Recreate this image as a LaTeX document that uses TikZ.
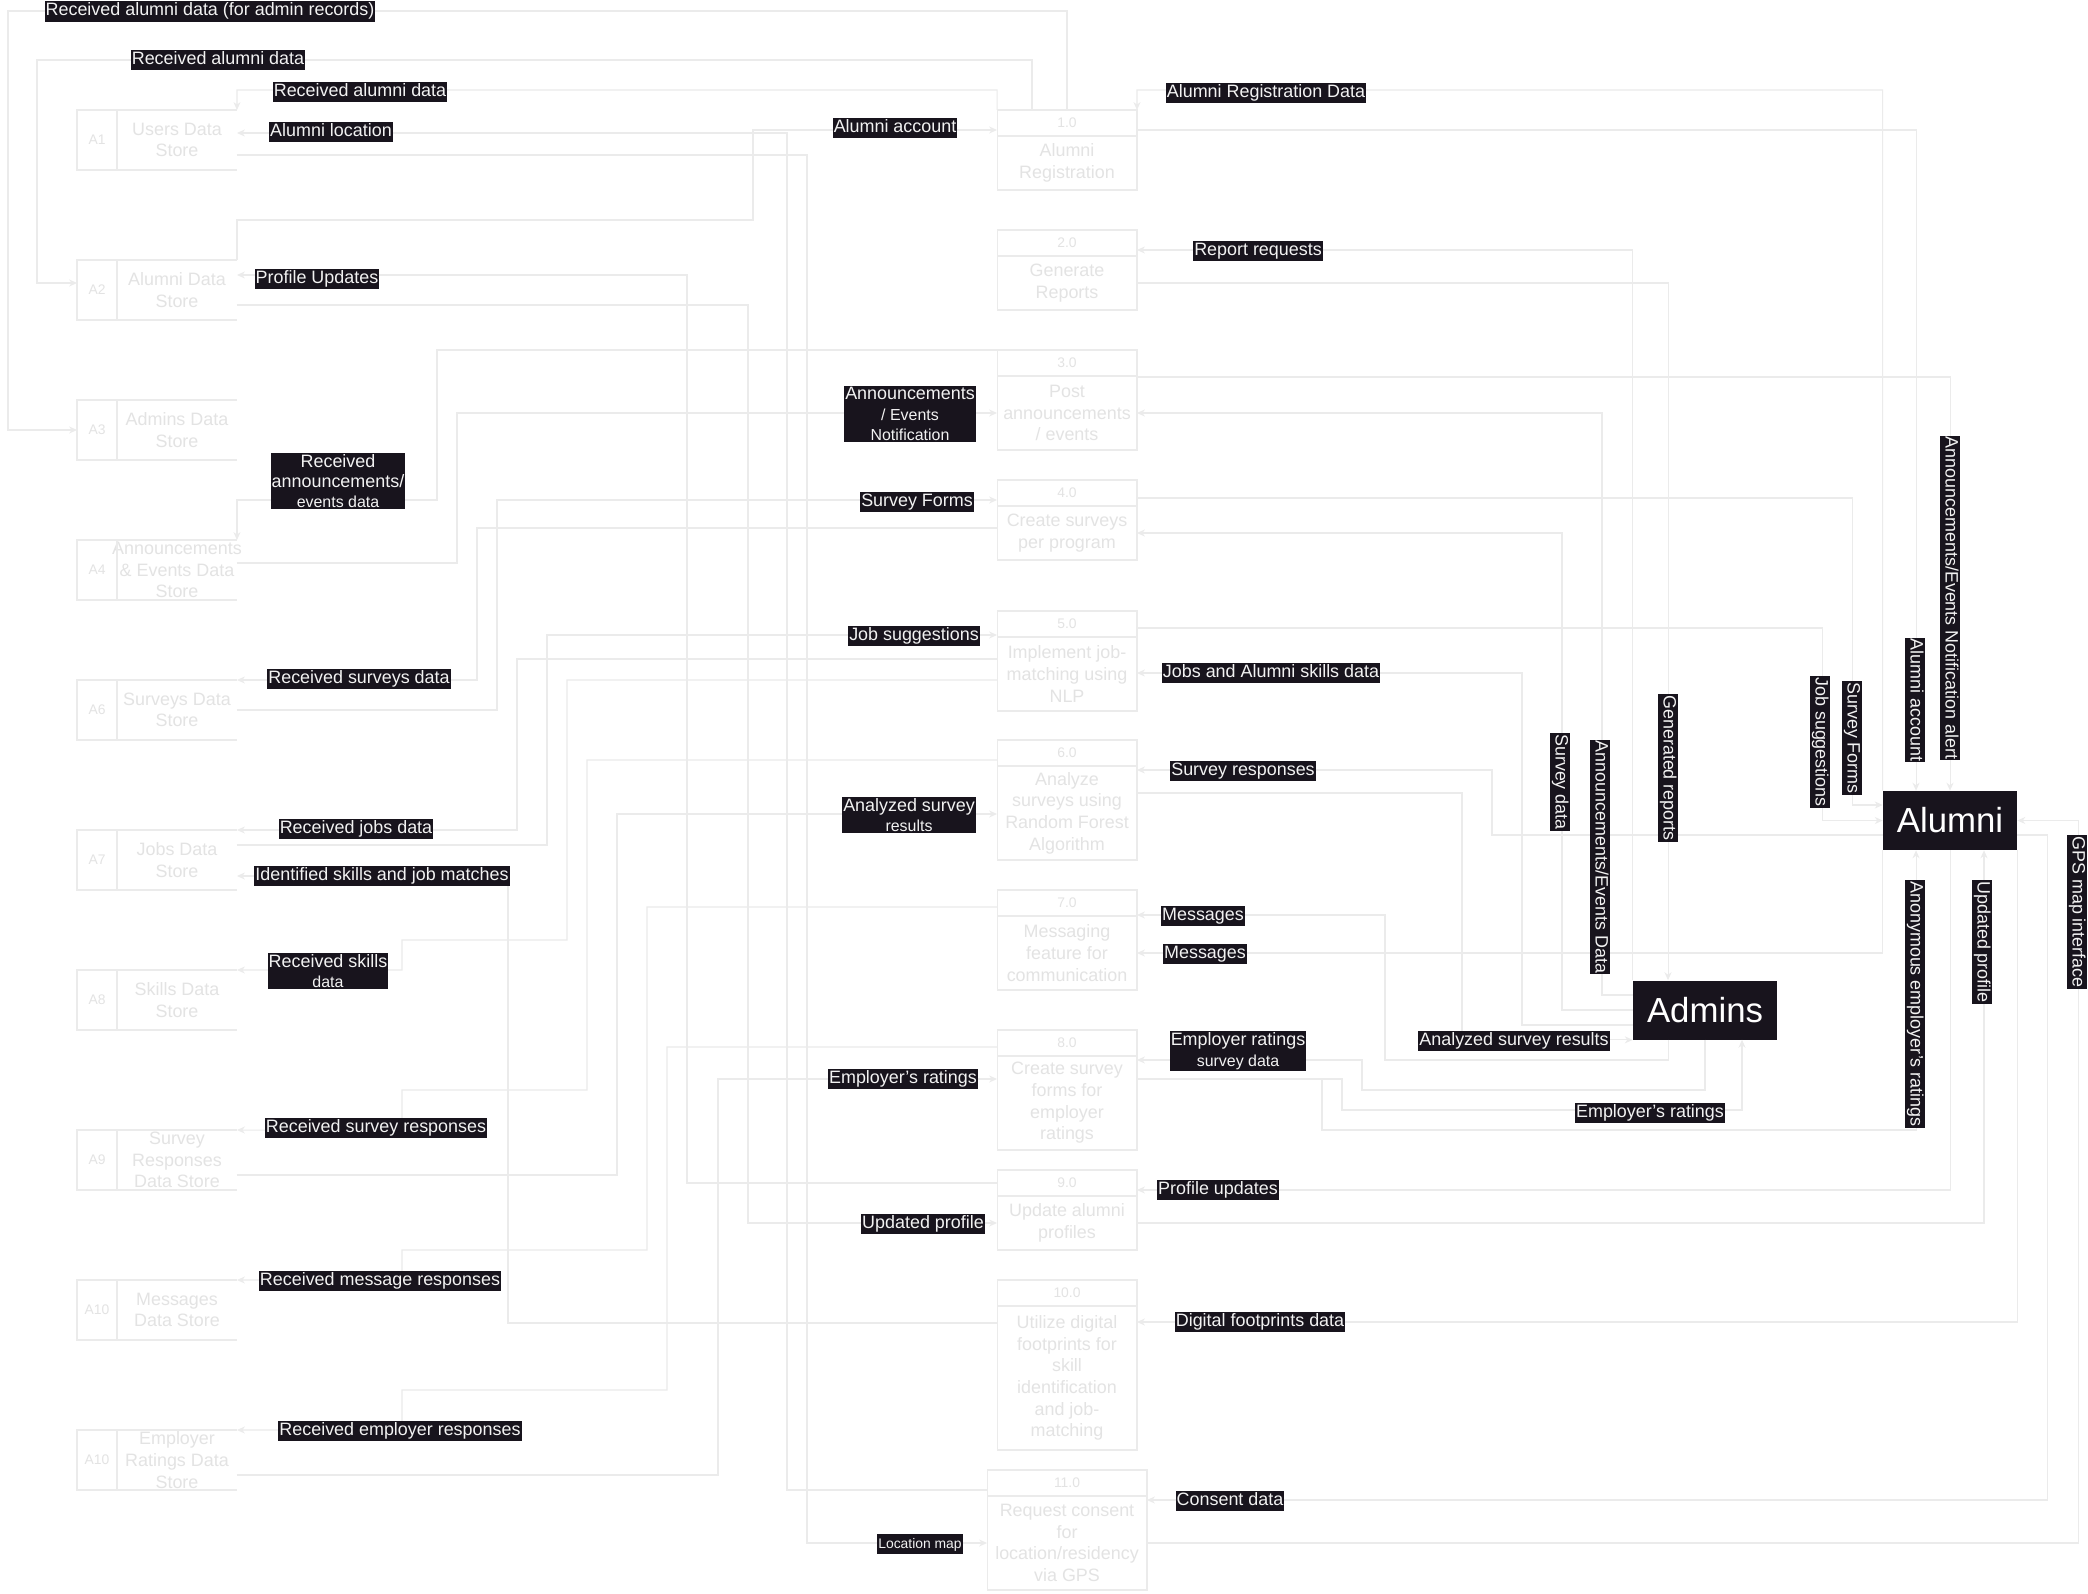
\documentclass[tikz,border=0pt]{standalone}
\usepackage{fontspec}
\setmainfont{Liberation Sans}
\usetikzlibrary{arrows.meta,positioning}

\definecolor{faint}{HTML}{EBEBEB}
\definecolor{fainttext}{HTML}{E3E3E3}
\definecolor{ink}{HTML}{18141D}
\definecolor{paper}{HTML}{F2F2F2}
\newcommand{\lblfnt}{\fontsize{10.2}{11.6}\selectfont}
\newcommand{\smallfnt}{\fontsize{9.07}{10.4}\selectfont}
\newcommand{\tinyfnt}{\fontsize{7.9}{9}\selectfont}

\begin{document}
\begin{tikzpicture}[x=0.02cm,y=-0.02cm,
  flow/.style={draw=faint,line width=0.6pt,-{Stealth[length=4.5pt,width=4pt]}},
  storeline/.style={draw=faint,line width=0.6pt},
  store/.style={minimum width=2.4cm,minimum height=1.2cm,inner sep=0pt,outer sep=0pt,align=center,text=fainttext,font=\fontsize{10.2}{12.3}\selectfont},
  storeid/.style={minimum width=0.8cm,minimum height=1.2cm,inner sep=0pt,outer sep=0pt,text=fainttext,font=\tinyfnt},
  phead/.style={draw=faint,line width=0.6pt,minimum width=2.8cm,minimum height=0.52cm,inner sep=0pt,outer sep=0pt,text=fainttext,font=\tinyfnt},
  pbody/.style={draw=faint,line width=0.6pt,minimum width=2.8cm,inner sep=0pt,outer sep=0pt,align=center,text=fainttext,font=\fontsize{10.2}{12.3}\selectfont},
  flowlbl/.style={fill=ink,text=paper,inner xsep=0.6pt,inner ysep=0.8pt,align=center,text height=0.75em,text depth=0.25em,font=\lblfnt},
  vlbl/.style={flowlbl,rotate=-90},
  entity/.style={fill=ink,text=white,minimum height=1.18cm,inner sep=0pt,font=\fontsize{19.8}{22}\selectfont}]

\fill[white] (0,0) rectangle (2088,1594);
\useasboundingbox (0,0) rectangle (2088,1594);

% data stores
\node[store] (A1) at (177,140) {Users Data\\Store};
\node[storeid,left=0pt of A1] (A1id) {A1};
\node[store] (A2) at (177,290) {Alumni Data\\Store};
\node[storeid,left=0pt of A2] (A2id) {A2};
\node[store] (A3) at (177,430) {Admins Data\\Store};
\node[storeid,left=0pt of A3] (A3id) {A3};
\node[store] (A4) at (177,570) {\makebox[2.4cm]{Announcements}\\\& Events Data\\Store};
\node[storeid,left=0pt of A4] (A4id) {A4};
\node[store] (A6) at (177,710) {Surveys Data\\Store};
\node[storeid,left=0pt of A6] (A6id) {A6};
\node[store] (A7) at (177,860) {Jobs Data\\Store};
\node[storeid,left=0pt of A7] (A7id) {A7};
\node[store] (A8) at (177,1000) {Skills Data\\Store};
\node[storeid,left=0pt of A8] (A8id) {A8};
\node[store] (A9) at (177,1160) {Survey\\Responses\\Data Store};
\node[storeid,left=0pt of A9] (A9id) {A9};
\node[store] (A10) at (177,1310) {Messages\\Data Store};
\node[storeid,left=0pt of A10] (A10id) {A10};
\node[store] (A10b) at (177,1460) {Employer\\Ratings Data\\Store};
\node[storeid,left=0pt of A10b] (A10bid) {A10};

\draw[storeline] (A1id.north -| A1.east) -- (A1id.north west) -- (A1id.south west) -- (A1id.south -| A1.east) (A1id.north east) -- (A1id.south east);
\draw[storeline] (A2id.north -| A2.east) -- (A2id.north west) -- (A2id.south west) -- (A2id.south -| A2.east) (A2id.north east) -- (A2id.south east);
\draw[storeline] (A3id.north -| A3.east) -- (A3id.north west) -- (A3id.south west) -- (A3id.south -| A3.east) (A3id.north east) -- (A3id.south east);
\draw[storeline] (A4id.north -| A4.east) -- (A4id.north west) -- (A4id.south west) -- (A4id.south -| A4.east) (A4id.north east) -- (A4id.south east);
\draw[storeline] (A6id.north -| A6.east) -- (A6id.north west) -- (A6id.south west) -- (A6id.south -| A6.east) (A6id.north east) -- (A6id.south east);
\draw[storeline] (A7id.north -| A7.east) -- (A7id.north west) -- (A7id.south west) -- (A7id.south -| A7.east) (A7id.north east) -- (A7id.south east);
\draw[storeline] (A8id.north -| A8.east) -- (A8id.north west) -- (A8id.south west) -- (A8id.south -| A8.east) (A8id.north east) -- (A8id.south east);
\draw[storeline] (A9id.north -| A9.east) -- (A9id.north west) -- (A9id.south west) -- (A9id.south -| A9.east) (A9id.north east) -- (A9id.south east);
\draw[storeline] (A10id.north -| A10.east) -- (A10id.north west) -- (A10id.south west) -- (A10id.south -| A10.east) (A10id.north east) -- (A10id.south east);
\draw[storeline] (A10bid.north -| A10b.east) -- (A10bid.north west) -- (A10bid.south west) -- (A10bid.south -| A10b.east) (A10bid.north east) -- (A10bid.south east);

% processes
\node[phead] (P1h) at (1067,123) {1.0};
\node[pbody,below=0pt of P1h,minimum height=1.08cm] (P1) {Alumni\\Registration};
\node[phead] (P2h) at (1067,243) {2.0};
\node[pbody,below=0pt of P2h,minimum height=1.08cm] (P2) {Generate\\Reports};
\node[phead] (P3h) at (1067,363) {3.0};
\node[pbody,below=0pt of P3h,minimum height=1.48cm] (P3) {Post\\announcements\\/ events};
\node[phead] (P4h) at (1067,493) {4.0};
\node[pbody,below=0pt of P4h,minimum height=1.08cm] (P4) {Create surveys\\per program};
\node[phead] (P5h) at (1067,624) {5.0};
\node[pbody,below=0pt of P5h,minimum height=1.48cm] (P5) {Implement job-\\matching using\\NLP};
\node[phead] (P6h) at (1067,753) {6.0};
\node[pbody,below=0pt of P6h,minimum height=1.88cm] (P6) {Analyze\\surveys using\\Random Forest\\Algorithm};
\node[phead] (P7h) at (1067,903) {7.0};
\node[pbody,below=0pt of P7h,minimum height=1.48cm] (P7) {Messaging\\feature for\\communication};
\node[phead] (P8h) at (1067,1043) {8.0};
\node[pbody,below=0pt of P8h,minimum height=1.88cm] (P8) {Create survey\\forms for\\employer\\ratings};
\node[phead] (P9h) at (1067,1183) {9.0};
\node[pbody,below=0pt of P9h,minimum height=1.08cm] (P9) {Update alumni\\profiles};
\node[phead] (P10h) at (1067,1293) {10.0};
\node[pbody,below=0pt of P10h,minimum height=2.88cm] (P10) {Utilize digital\\footprints for\\skill\\identification\\and job-\\matching};
\node[phead,minimum width=3.2cm] (P11h) at (1067,1483) {11.0};
\node[pbody,below=0pt of P11h,minimum width=3.2cm,minimum height=1.88cm] (P11) {Request consent\\for\\location/residency\\via GPS};

% external entities
\node[entity,minimum width=2.68cm] (alumni) at (1950,820.5) {Alumni};
\node[entity,minimum width=2.88cm] (admins) at (1705,1010) {Admins};

% flows between processes and stores
\draw[flow] (P1h.north) |- (8,11) |- (A3id.west |- 0,430);
\draw[flow] ([xshift=-0.7cm]P1h.north) |- (37,60) |- (A2id.west |- 0,283);
\draw[flow] (P1h.north west) |- (237,90) -- (A1.east |- A1id.north);
\draw[flow] (P11.west |- 0,1490) -| (787,133) -- (A1.east |- 0,133);
\draw[flow] (A1.east |- 0,155) -| (807,1543) -- (P11.west |- 0,1543);
\draw[flow] (A2.east |- A2id.north) |- (753,220) |- (P1h.west |- 0,130);
\draw[flow] (P9h.west |- 0,1183) -| (687,275) -- (A2.east |- 0,275);
\draw[flow] (A2.east |- 0,305) -| (748,1223) -- (P9.west |- 0,1223);
\draw[flow] (P3h.north west) -| (437,500) -| (A4.east |- A4id.north);
\draw[flow] (A4.east |- 0,563) -| (457,413) -- (P3.west |- 0,413);
\draw[flow] (P4.west |- 0,528) -| (477,680) -- (A6.east |- 0,680);
\draw[flow] (A6.east |- 0,710) -| (497,500) -- (P4h.west |- 0,500);
\draw[flow] (P5.west |- 0,659) -| (517,830) -- (A7.east |- 0,830);
\draw[flow] (A7.east |- 0,845) -| (547,635) -- (P5h.west |- 0,635);
\draw[flow] (P10.west |- 0,1323) -| (508,876) -- (A7.east |- 0,876);
\draw[flow] (P5.west |- 0,680) -| (567,940) -| (402,970) -- (A8.east |- A8id.north);
\draw[flow] (P6.west |- 0,760) -| (587,1090) -| (402,1131) -- (A9.east |- A9id.north);
\draw[flow] (A9.east |- 0,1175) -| (617,814) -- (P6.west |- 0,814);
\draw[flow] (P7.west |- 0,907) -| (647,1250) -| (402,1280) -- (A10.east |- A10id.north);
\draw[flow] (P8.west |- 0,1047) -| (667,1390) -| (402,1430) -- (A10b.east |- A10bid.north);
\draw[flow] (A10b.east |- 0,1475) -| (718,1079) -- (P8.west |- 0,1079);

% flows between processes and entities
\draw[flow] (alumni.north west) |- (1137,90) -- (P1h.north east);
\draw[flow] (P1h.east |- 0,130) -| ([xshift=-0.68cm]alumni.north);
\draw[flow] (admins.north west) |- (P2h.east |- 0,250);
\draw[flow] (P2.east |- 0,283) -| ([xshift=-0.74cm]admins.north);
\draw[flow] (P3.east |- 0,377) -| (alumni.north);
\draw[flow] (admins.west |- 0,995) -| (1602,413) -- (P3.east |- 0,413);
\draw[flow] (P4h.east |- 0,498) -| (1852,805) -- (alumni.west |- 0,805);
\draw[flow] (admins.west |- 0,1010) -| (1562,533) -- (P4.east |- 0,533);
\draw[flow] (P5h.east |- 0,628) -| ([xshift=-1.2cm]alumni.west) -- (alumni.west);
\draw[flow] (admins.west |- 0,1025) -| (1522,673) -- (P5.east |- 0,673);
\draw[flow] (alumni.west |- 0,835) -| (1492,770) -- (P6.east |- 0,770);
\draw[flow] (P6.east |- 0,793) -| (1462,1000) |- (admins.south west);
\draw[flow] ([xshift=-0.74cm]admins.south) |- (1385,1060) |- (P7.east |- 0,915);
\draw[flow] (alumni.south west) |- (P7.east |- 0,953);
\draw[flow] (admins.south) |- (1362,1090) |- (P8h.east |- 0,1060);
\draw[flow] (P8.east |- 0,1079) -| (1342,1110) -| ([xshift=0.74cm]admins.south);
\draw[flow] (P8.east |- 0,1079) -| (1322,1130) -| ([xshift=-0.68cm]alumni.south);
\draw[flow] (alumni.south) |- (P9.east |- 0,1190);
\draw[flow] (P9.east |- 0,1223) -| ([xshift=0.68cm]alumni.south);
\draw[flow] (alumni.south east) |- (P10.east |- 0,1322);
\draw[flow] (alumni.east |- 0,835) -| (2047,1500) -- (P11.east |- 0,1500);
\draw[flow] (P11.east |- 0,1543) -| ([xshift=1.22cm]alumni.east) -- (alumni.east);

% labels
\node[flowlbl] (lAdminRec) at (210,11.5) {Received alumni data (for admin records)};
\node[flowlbl] (lAlumData) at (218,60) {Received alumni data};
\node[flowlbl] (lUserData) at (360,92) {Received alumni data};
\node[flowlbl] (lLocation) at (331,132) {Alumni location};
\node[flowlbl] (lAccountL) at (895,128) {Alumni account};
\node[flowlbl] (lRegData) at (1266,93) {Alumni Registration Data};
\node[flowlbl] (lReportReq) at (1258,251) {Report requests};
\node[flowlbl] (lProfUpdL) at (317,279) {Profile Updates};
\node[flowlbl,text height=,text depth=] (lAnnNotif) at (910,414) {Announcements\\{\smallfnt / Events}\\{\smallfnt Notification}};
\node[flowlbl,text height=,text depth=] (lAnnData) at (338,481) {Received\\announcements/\\{\smallfnt events data}};
\node[flowlbl] (lFormsL) at (917,502) {Survey Forms};
\node[flowlbl] (lJobsL) at (914,636) {Job suggestions};
\node[flowlbl] (lSurveysData) at (359,679) {Received surveys data};
\node[flowlbl] (lSkillsIn) at (1271,673) {Jobs and Alumni skills data};
\node[flowlbl] (lRespIn) at (1243,771) {Survey responses};
\node[flowlbl,text height=,text depth=] (lAnalyzedL) at (909,815) {Analyzed survey\\{\smallfnt results}};
\node[flowlbl] (lJobsData) at (356,829) {Received jobs data};
\node[flowlbl] (lMatches) at (382,876) {Identified skills and job matches};
\node[flowlbl,text height=,text depth=] (lSkillsData) at (328,971) {Received skills\\{\smallfnt data}};
\node[flowlbl] (lMsgA) at (1203,916) {Messages};
\node[flowlbl] (lMsgB) at (1205,954) {Messages};
\node[flowlbl,text height=,text depth=] (lEmpSurvey) at (1238,1051) {Employer ratings\\{\smallfnt survey data}};
\node[flowlbl] (lEmpL) at (903,1079) {Employer's ratings};
\node[flowlbl] (lRespData) at (376,1128) {Received survey responses};
\node[flowlbl] (lProfUpdR) at (1218,1190) {Profile updates};
\node[flowlbl] (lUpdProfL) at (923,1224) {Updated profile};
\node[flowlbl] (lMsgData) at (380,1281) {Received message responses};
\node[flowlbl] (lFootprint) at (1260,1322) {Digital footprints data};
\node[flowlbl] (lEmpData) at (400,1431) {Received employer responses};
\node[flowlbl] (lConsent) at (1230,1501) {Consent data};
\node[flowlbl,font=\tinyfnt] (lMap) at (920,1544) {Location map};
\node[flowlbl] (lAnalyzedR) at (1514,1041) {Analyzed survey results};
\node[flowlbl] (lEmpR) at (1650,1113) {Employer's ratings};

\node[vlbl] (vAnnAlert) at (1950,598) {Announcements/Events Notification alert};
\node[vlbl] (vAccount) at (1915,700) {Alumni account};
\node[vlbl] (vForms) at (1852,738) {Survey Forms};
\node[vlbl] (vJobs) at (1820,742) {Job suggestions};
\node[vlbl] (vReports) at (1668,768) {Generated reports};
\node[vlbl] (vAnnData) at (1600,857) {Announcements/Events Data};
\node[vlbl] (vSurvey) at (1560,782) {Survey data};
\node[vlbl] (vAnon) at (1915,1004) {Anonymous employer's ratings};
\node[vlbl] (vUpdProf) at (1982,942) {Updated profile};
\node[vlbl] (vGPS) at (2077,912) {GPS map interface};
\end{tikzpicture}
\end{document}
